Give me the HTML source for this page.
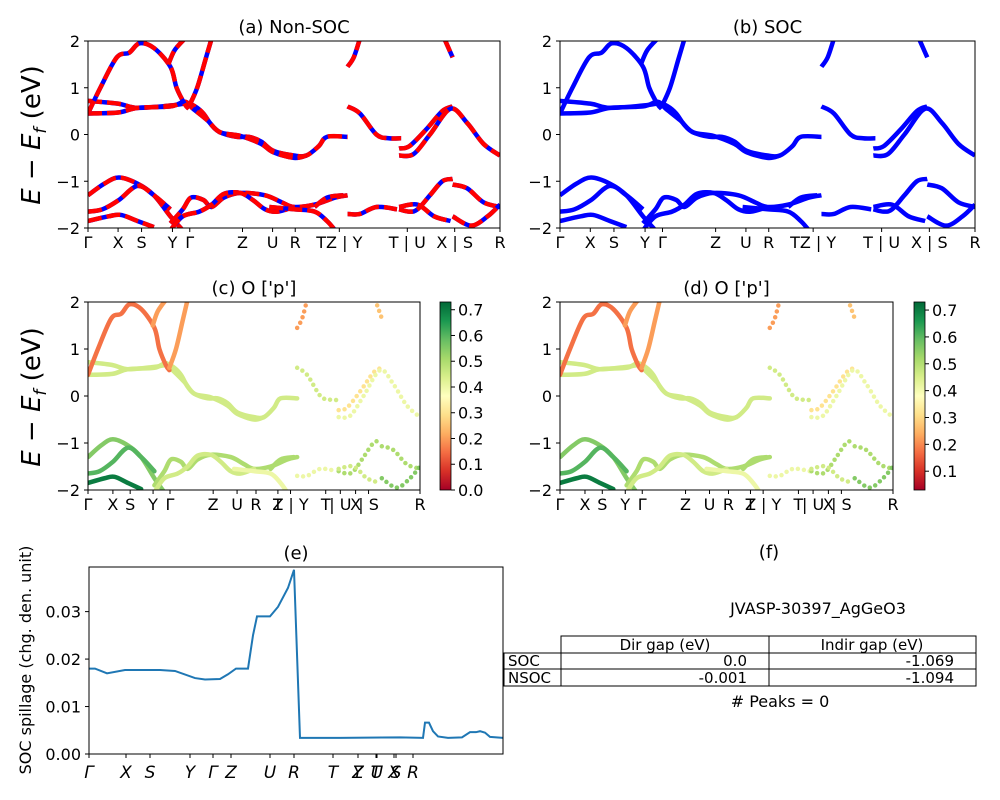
<!DOCTYPE html>
<html><head><meta charset="utf-8"><style>
body{margin:0;background:#fff;}
svg{display:block;font-family:"DejaVu Sans","Liberation Sans",sans-serif;}
</style></head><body>
<svg id="fig" width="1000" height="800" viewBox="0 0 1000 800" xmlns="http://www.w3.org/2000/svg">
<defs>
<linearGradient id="rdylgn" x1="0" y1="1" x2="0" y2="0">
<stop offset="0" stop-color="#a50026"/><stop offset="0.1" stop-color="#d73027"/><stop offset="0.2" stop-color="#f46d43"/><stop offset="0.3" stop-color="#fdae61"/><stop offset="0.4" stop-color="#fee08b"/><stop offset="0.5" stop-color="#ffffbf"/><stop offset="0.6" stop-color="#d9ef8b"/><stop offset="0.7" stop-color="#a6d96a"/><stop offset="0.8" stop-color="#66bd63"/><stop offset="0.9" stop-color="#1a9850"/><stop offset="1" stop-color="#006837"/>
</linearGradient>
<clipPath id="ca"><rect x="88" y="41" width="412" height="187"/></clipPath>
<clipPath id="cb"><rect x="560" y="41" width="415" height="187"/></clipPath>
<clipPath id="cc"><rect x="88" y="302" width="332" height="188"/></clipPath>
<clipPath id="cd"><rect x="560" y="302" width="333" height="188"/></clipPath>
</defs>
<g id="layer"></g>
</svg>
<script>
// band data: [k (0..1 along path), E (eV)], plus projected weight per band
const bandA=[[0,0.72],[0.073,0.66],[0.12,0.57],[0.2,0.62],[0.24,0.66],[0.26,0.6],[0.28,0.45],[0.3,0.2],[0.32,0.05],[0.36,-0.05],[0.39,-0.05],[0.42,-0.15],[0.45,-0.35],[0.5,-0.45],[0.53,-0.45],[0.56,-0.25],[0.58,-0.05],[0.63,-0.05]];
const bandB=[[0,0.45],[0.073,0.47],[0.12,0.57],[0.2,0.6],[0.235,0.7],[0.255,0.55],[0.29,0.3],[0.32,0.05],[0.37,-0.03],[0.42,-0.2],[0.45,-0.38],[0.5,-0.5],[0.53,-0.45]];
const bandC=[[0,0.45],[0.03,1.0],[0.07,1.65],[0.1,1.75],[0.125,1.95],[0.16,1.85],[0.2,1.45],[0.215,1.0],[0.235,0.65],[0.245,0.55]];
const bandD=[[0.195,1.5],[0.21,1.8],[0.235,2.05]];
const bandE=[[0.245,0.6],[0.265,1.0],[0.285,1.6],[0.3,2.05]];
const bandF=[[0.63,1.45],[0.645,1.65],[0.66,2.05]];
const bandG=[[0.63,0.6],[0.66,0.45],[0.7,0.0],[0.73,-0.08],[0.76,-0.08]];
const bandH=[[0.755,-0.3],[0.78,-0.25],[0.82,0.1],[0.86,0.5],[0.885,0.6]];
const bandI=[[0.755,-0.45],[0.79,-0.42],[0.83,0.0],[0.88,0.55],[0.92,0.25],[0.96,-0.2],[1.0,-0.45]];
const bandJ=[[0.865,2.05],[0.875,1.85],[0.885,1.65]];
const bandV1=[[0,-1.3],[0.04,-1.05],[0.075,-0.92],[0.12,-1.05],[0.16,-1.3],[0.2,-1.75],[0.23,-2.05]];
const bandV2=[[0,-1.65],[0.035,-1.6],[0.075,-1.4],[0.12,-1.1],[0.16,-1.3],[0.2,-1.6]];
const bandV3=[[0,-1.85],[0.05,-1.75],[0.08,-1.72],[0.12,-1.85],[0.16,-1.98]];
const bandV4=[[0.2,-1.9],[0.23,-1.6],[0.25,-1.35],[0.28,-1.4],[0.3,-1.55],[0.33,-1.35],[0.37,-1.25],[0.43,-1.3],[0.47,-1.45],[0.5,-1.55],[0.55,-1.5],[0.6,-1.35],[0.63,-1.3]];
const bandV5=[[0.2,-2.05],[0.23,-1.75],[0.27,-1.65],[0.3,-1.5],[0.33,-1.27],[0.37,-1.25],[0.4,-1.4],[0.43,-1.6],[0.46,-1.65],[0.5,-1.55]];
const bandV6=[[0.44,-1.55],[0.5,-1.6],[0.55,-1.65],[0.58,-1.85],[0.6,-2.05]];
const bandV7=[[0.55,-1.55],[0.58,-1.35],[0.62,-1.3]];
const bandV8=[[0.63,-1.7],[0.66,-1.7],[0.7,-1.55],[0.75,-1.6]];
const bandV9=[[0.755,-1.6],[0.78,-1.65],[0.8,-1.6],[0.83,-1.3],[0.86,-1.0],[0.885,-0.95]];
const bandV10=[[0.885,-1.07],[0.92,-1.15],[0.96,-1.45],[1.0,-1.55]];
const bandV11=[[0.885,-1.75],[0.93,-1.95],[0.97,-1.75],[1.0,-1.5]];
const bandV12=[[0.755,-1.55],[0.8,-1.5],[0.84,-1.75],[0.88,-1.85]];
const bands=[bandA,bandB,bandC,bandD,bandE,bandF,bandG,bandH,bandI,bandJ,bandV1,bandV2,bandV3,bandV4,bandV5,bandV6,bandV7,bandV8,bandV9,bandV10,bandV11,bandV12];
const weights=[0.45,0.45,0.15,0.2,0.2,0.2,0.45,0.3,0.4,0.25,0.55,0.6,0.7,0.5,0.45,0.4,0.5,0.4,0.5,0.5,0.55,0.45];
const kLabelsAB=["Γ","X","S","Y","Γ","Z","U","R","TZ | Y","T | U","X | S","R"];
const kPosAB=[0,0.073,0.13,0.205,0.247,0.375,0.448,0.503,0.61,0.775,0.89,1];
const kPosCD=[0,0.075,0.127,0.196,0.247,0.377,0.449,0.506,0.572,0.61,0.716,0.76,0.806,0.845,1];
const kLabelsCD=["Γ","X","S","Y","Γ","Z","U","R","T","Z | Y","T","| U","X","| S","R"];
const eTicks=[-2,-1,0,1,2];
const spillK=[0,6,18,36,71,86,106,116,131,139,147,159,164,168,173,181,189,199,205,211,251,311,334,336,340,344,349,359,373,381,387,391,396,401,414];
const spillV=[0.018,0.018,0.017,0.0177,0.0177,0.0175,0.016,0.0157,0.0158,0.0168,0.018,0.018,0.025,0.029,0.029,0.029,0.031,0.035,0.0388,0.0034,0.0034,0.0035,0.0034,0.0066,0.0066,0.0048,0.0037,0.0034,0.0035,0.0046,0.0046,0.0048,0.0045,0.0036,0.0034];
const spillTicks=[0,0.01,0.02,0.03];
const spillKLabels=["Γ","X","S","Y","Γ","Z","U","R","T","Z","Y","T","U","X","S","R"];
const spillKPos=[0,37,61,101,124,142,181,205,244,269,269,287,288,305,307,324];
const cbTicksC=[0,0.1,0.2,0.3,0.4,0.5,0.6,0.7];
const cbTicksD=[0.1,0.2,0.3,0.4,0.5,0.6,0.7];

const NS="http://www.w3.org/2000/svg";
const layer=document.getElementById('layer');
function mk(tag,attrs,parent){const e=document.createElementNS(NS,tag);for(const k in attrs)e.setAttribute(k,attrs[k]);(parent||layer).appendChild(e);return e;}
function txt(x,y,s,size,anchor,parent,extra){const t=mk('text',Object.assign({x:x,y:y,'font-size':size,'text-anchor':anchor||'middle',fill:'#000'},extra||{}),parent);t.textContent=s;return t;}
function cmap(v){const st=[[0,[165,0,38]],[0.1,[215,48,39]],[0.2,[244,109,67]],[0.3,[253,174,97]],[0.4,[254,224,139]],[0.5,[255,255,191]],[0.6,[217,239,139]],[0.7,[166,217,106]],[0.8,[102,189,99]],[0.9,[26,152,80]],[1,[0,104,55]]];
 v=Math.max(0,Math.min(1,v));for(let i=1;i<st.length;i++){if(v<=st[i][0]){const a=st[i-1],b=st[i],t=(v-a[0])/(b[0]-a[0]);return 'rgb('+a[1].map((c,j)=>Math.round(c+(b[1][j]-c)*t)).join(',')+')';}}return 'rgb(0,104,55)';}
function smooth(pts){let d='M'+pts[0][0]+','+pts[0][1];for(let i=0;i<pts.length-1;i++){const p0=pts[Math.max(0,i-1)],p1=pts[i],p2=pts[i+1],p3=pts[Math.min(pts.length-1,i+2)];
 d+=' C'+(p1[0]+(p2[0]-p0[0])/6)+','+(p1[1]+(p2[1]-p0[1])/6)+' '+(p2[0]-(p3[0]-p1[0])/6)+','+(p2[1]-(p3[1]-p1[1])/6)+' '+p2[0]+','+p2[1];}return d;}

function bandPanel(id,x0,y0,w,h,title,mode,kPos,kLabels,clip,cb){
 const g=mk('g',{});
 
 
 const sx=k=>x0+k*w, sy=E=>y0+(2-E)/4*h;
 const plot=mk('g',{'clip-path':'url(#'+clip+')'},g);
 bands.forEach((b,i)=>{const pts=b.map(p=>[sx(p[0]),sy(p[1])]);
  if(mode==='ab'){
   const p1=mk('path',{d:smooth(pts),fill:'none',stroke:'#0000ff','stroke-width':4.5},plot);
   
   const p2=mk('path',{d:smooth(pts),fill:'none',stroke:'#ff0000','stroke-width':4.5,'stroke-dasharray':'14 5'},plot);
   
  } else if(mode==='b'){
   const p=mk('path',{d:smooth(pts),fill:'none',stroke:'#0000ff','stroke-width':4.5},plot);
   
  } else {
   const p=mk('path',{d:smooth(pts),fill:'none',stroke:cmap(weights[i]/0.73),'stroke-width':4.5,'stroke-linecap':'round','stroke-dasharray':(b[0][0]>0.6?'0 6':'none')},plot);
   
  }
 });
 mk('rect',{x:x0,y:y0,width:w,height:h,fill:'none',stroke:'#000','stroke-width':1},g);
 eTicks.forEach(E=>{mk('line',{x1:x0-4,x2:x0,y1:sy(E),y2:sy(E),stroke:'#000'},g);
  const t=txt(x0-8,sy(E)+6,(E<0?'−':'')+Math.abs(E),16,'end',g);});
 kPos.forEach((k,i)=>{mk('line',{x1:sx(k),x2:sx(k),y1:y0+h,y2:y0+h+4,stroke:'#000'},g);
  const t=txt(sx(k),y0+h+20,kLabels[i],16,'middle',g);});
 const tt=txt(x0+w/2,y0-8,title,18,'middle',g);
 if(cb){const cx=cb.x,cw=11;const r=mk('rect',{x:cx,y:y0,width:cw,height:h,fill:'url(#rdylgn)',stroke:'#000','stroke-width':0.8},g);
  
  cb.ticks.forEach(v=>{const yy=y0+h-(v-cb.min)/(cb.max-cb.min)*h;mk('line',{x1:cx+cw,x2:cx+cw+4,y1:yy,y2:yy,stroke:'#000'},g);
   const t=txt(cx+cw+7,yy+6,v.toFixed(1),16,'start',g);});}
}
bandPanel('panel-a-non-soc',88,41,412,187,'(a) Non-SOC','ab',kPosAB,kLabelsAB,'ca');
bandPanel('panel-b-soc',560,41,415,187,'(b) SOC','b',kPosAB,kLabelsAB,'cb');
bandPanel('panel-c-projected',88,302,332,188,'(c)  O [\'p\']','c',kPosCD,kLabelsCD,'cc',{x:440,min:0,max:0.73,ticks:cbTicksC});
bandPanel('panel-d-projected',560,302,333,188,'(d) O [\'p\']','c',kPosCD,kLabelsCD,'cd',{x:914,min:0.03,max:0.73,ticks:cbTicksD});
[[135],[397]].forEach(a=>{const t=txt(40,a[0],'',26,'middle',null,{transform:'rotate(-90 40 '+a[0]+')'});
 
 t.innerHTML='<tspan font-style="italic">E</tspan> − <tspan font-style="italic">E</tspan><tspan font-style="italic" font-size="17" dy="6">f</tspan><tspan dy="-6"> (eV)</tspan>';});

// panel e
(function(){const x0=89,y0=567,w=414,h=187,ymax=0.0394;
 const g=mk('g',{});
 const sx=k=>x0+k/414*w, sy=v=>y0+h-v/ymax*h;
 const pts=spillK.map((k,i)=>[sx(k),sy(spillV[i])]);
 const p=mk('path',{d:'M'+pts.map(q=>q.join(',')).join(' L'),fill:'none',stroke:'#1f77b4','stroke-width':2},g);
 
 mk('rect',{x:x0,y:y0,width:w,height:h,fill:'none',stroke:'#000'},g);
 spillTicks.forEach(v=>{mk('line',{x1:x0-4,x2:x0,y1:sy(v),y2:sy(v),stroke:'#000'},g);
  const t=txt(x0-8,sy(v)+6,v.toFixed(2),16,'end',g);});
 spillKPos.forEach((k,i)=>{mk('line',{x1:sx(k),x2:sx(k),y1:y0+h,y2:y0+h+4,stroke:'#000'},g);
  const t=txt(sx(k),y0+h+24,spillKLabels[i],17,'middle',g,{'font-style':'italic'});});
 const tt=txt(x0+w/2,y0-8,'(e)',18,'middle',g);
 const yt=txt(31,660,'SOC spillage (chg. den. unit)',16,'middle',g,{transform:'rotate(-90 31 660)'});
})();
</script>
<svg style="position:absolute;left:0;top:0" width="1000" height="800">
<text x="769" y="558" font-size="18" text-anchor="middle" font-family="DejaVu Sans">(f)</text>
<text x="818" y="614" font-size="16" text-anchor="middle" font-family="DejaVu Sans">JVASP-30397_AgGeO3</text>
<g fill="none" stroke="#000" stroke-width="1">
<rect x="561" y="636" width="415" height="17"/><rect x="504" y="653" width="472" height="33"/>
<line x1="504" y1="669" x2="976" y2="669"/><line x1="561" y1="653" x2="561" y2="686"/><line x1="769" y1="636" x2="769" y2="686"/>
</g>
<g font-family="DejaVu Sans" font-size="15" fill="#000">
<text x="665" y="650" text-anchor="middle">Dir gap (eV)</text>
<text x="872" y="650" text-anchor="middle">Indir gap (eV)</text>
<text x="508" y="666">SOC</text>
<text x="508" y="683">NSOC</text>
<text x="747" y="666" text-anchor="end">0.0</text>
<text x="954" y="666" text-anchor="end">-1.069</text>
<text x="747" y="683" text-anchor="end">-0.001</text>
<text x="954" y="683" text-anchor="end">-1.094</text>
<text x="780" y="707" text-anchor="middle" font-size="16"># Peaks = 0</text>
</g>
</svg>
</body></html>
